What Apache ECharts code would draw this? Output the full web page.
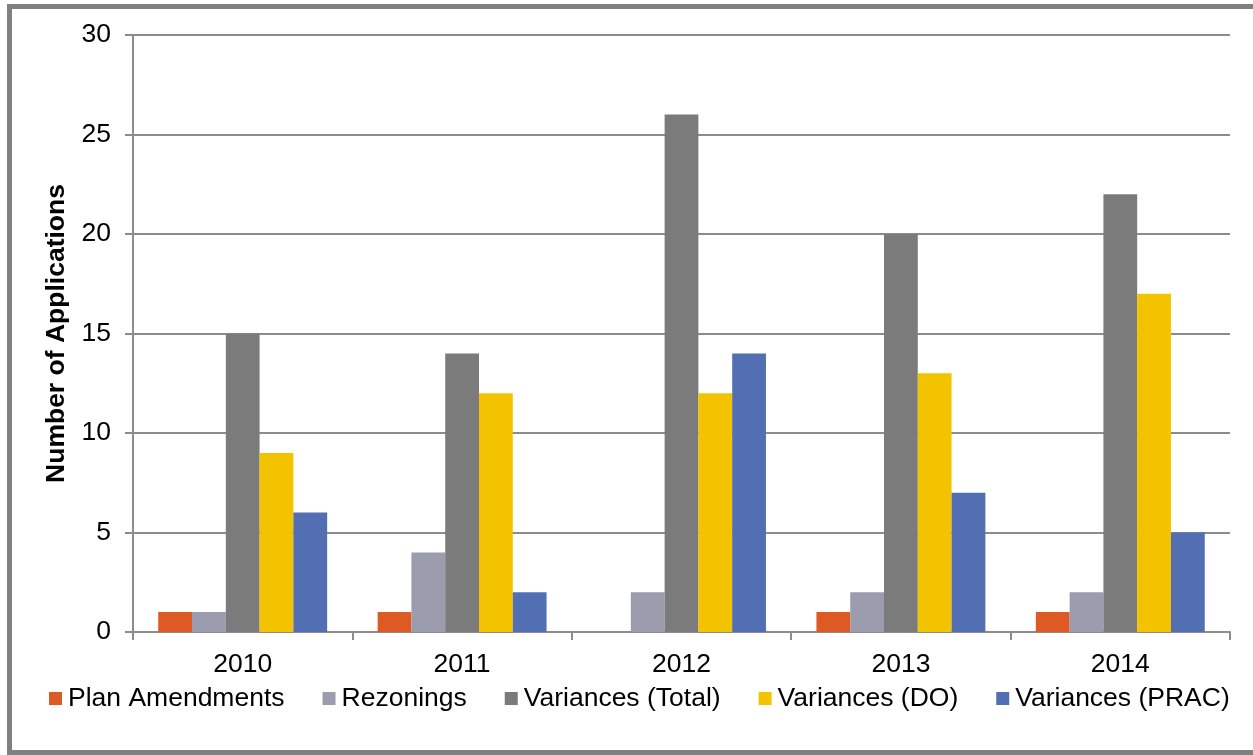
<!DOCTYPE html>
<html>
<head>
<meta charset="utf-8">
<title>Number of Applications by Year</title>
<script src="https://cdn.jsdelivr.net/npm/echarts@6/dist/echarts.min.js"></script>
<style>
  html, body { margin: 0; padding: 0; background: #ffffff; }
  #chart { width: 1253px; height: 755px; }
</style>
</head>
<body>
<div id="chart"></div>
<script>
// Application counts per year, one array per application type
const years = ['2010', '2011', '2012', '2013', '2014'];
const planAmendments = [1, 1, 0, 1, 1];
const rezonings = [1, 4, 2, 2, 2];
const variancesTotal = [15, 14, 26, 20, 22];
const variancesDO = [9, 12, 12, 13, 17];
const variancesPRAC = [6, 2, 14, 7, 5];

const seriesNames = ['Plan Amendments', 'Rezonings', 'Variances (Total)', 'Variances (DO)', 'Variances (PRAC)'];
const seriesData = [planAmendments, rezonings, variancesTotal, variancesDO, variancesPRAC];
const seriesColors = ['#DE5A24', '#9B9CAE', '#7B7B7B', '#F4C300', '#536FB4'];

const FONT = '"Liberation Sans", Arial, sans-serif';
const FONT_SIZE = 26.5;
const AXIS_GREY = '#8C8C8C';

const chart = echarts.init(document.getElementById('chart'), null, { renderer: 'canvas' });

chart.setOption({
  animation: false,
  backgroundColor: '#ffffff',
  textStyle: { fontFamily: FONT },
  graphic: [{
    // outer frame around the chart
    type: 'rect',
    shape: { x: 9.5, y: 6.5, width: 1260, height: 746 },
    style: { fill: 'none', stroke: '#808080', lineWidth: 5 },
    silent: true,
    z: -1
  }],
  grid: { left: 133, right: 23, top: 35, bottom: 123, containLabel: false },
  legend: {
    left: 44,
    top: 680,
    itemWidth: 13,
    itemHeight: 13,
    itemGap: 38,
    icon: 'rect',
    textStyle: { fontFamily: FONT, fontSize: FONT_SIZE, color: '#000000', padding: [0, 0, 0, 1] },
    data: seriesNames
  },
  xAxis: {
    type: 'category',
    data: years,
    axisLine: { show: true, lineStyle: { color: AXIS_GREY, width: 2 } },
    axisTick: { show: true, inside: false, length: 8, alignWithLabel: false, lineStyle: { color: AXIS_GREY, width: 2 } },
    axisLabel: { fontFamily: FONT, fontSize: FONT_SIZE, color: '#000000', margin: 19 },
    splitLine: { show: false }
  },
  yAxis: {
    type: 'value',
    min: 0,
    max: 30,
    interval: 5,
    name: 'Number of Applications',
    nameLocation: 'middle',
    nameGap: 57,
    nameRotate: 90,
    nameTextStyle: { fontFamily: FONT, fontSize: FONT_SIZE, fontWeight: 'bold', color: '#000000' },
    axisLine: { show: true, lineStyle: { color: AXIS_GREY, width: 2 } },
    axisTick: { show: true, inside: false, length: 8, lineStyle: { color: AXIS_GREY, width: 2 } },
    axisLabel: { fontFamily: FONT, fontSize: FONT_SIZE, color: '#000000', margin: 22, padding: [4, 0, 0, 0] },
    splitLine: { show: true, lineStyle: { color: AXIS_GREY, width: 2 } }
  },
  series: seriesNames.map((name, i) => ({
    name: name,
    type: 'bar',
    data: seriesData[i],
    barGap: '0%',
    barCategoryGap: '23%',
    itemStyle: { color: seriesColors[i] },
    emphasis: { disabled: true }
  }))
});
</script>
</body>
</html>
